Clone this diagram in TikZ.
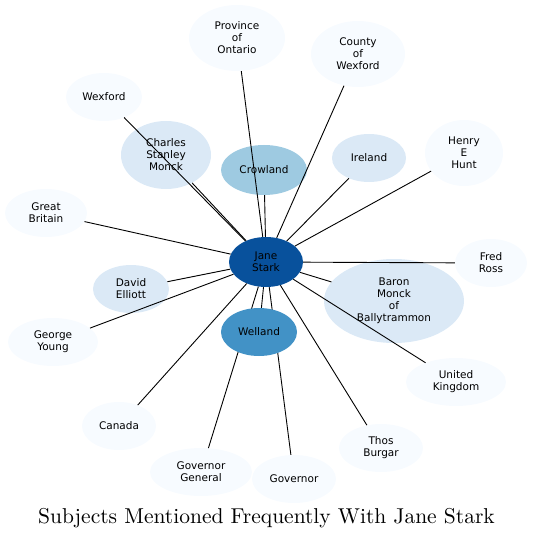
\documentclass[tikz,border=0pt]{standalone}
\usepackage{fontspec}
\setsansfont{DejaVu Sans}
\newfontfamily\titlefont{lmroman10-regular}[Extension=.otf]
\usetikzlibrary{shapes.geometric}
\definecolor{c0}{HTML}{F7FBFF}
\definecolor{c1}{HTML}{DBE9F6}
\definecolor{c2}{HTML}{9ECAE1}
\definecolor{c3}{HTML}{4292C6}
\definecolor{c4}{HTML}{08519C}
\tikzset{
  ent/.style={ellipse, inner sep=0pt, align=center, text=black,
    font=\sffamily\fontsize{10.5}{12}\selectfont},
  e/.style 2 args={ent, minimum width=#1pt, minimum height=#2pt},
  link/.style={draw=black, line width=0.9pt}
}
\begin{document}
\begin{tikzpicture}[x=1pt,y=-1pt]
\useasboundingbox (0,0) rectangle (533,540);
\node[e={74}{50}, fill=c4] (jane) at (266,262) {Jane\\Stark};
\node[e={96}{66}, fill=c0] (prov) at (237,38) {Province\\of\\Ontario};
\node[e={94}{66}, fill=c0] (county) at (358,54) {County\\of\\Wexford};
\node[e={76}{48}, fill=c0] (wex) at (104,97) {Wexford};
\node[e={90}{68}, fill=c1] (csm) at (166,155) {Charles\\Stanley\\Monck};
\node[e={86}{50}, fill=c2] (crow) at (264,170) {Crowland};
\node[e={74}{48}, fill=c1] (ire) at (369,158) {Ireland};
\node[e={78}{66}, fill=c0] (henry) at (464,153) {Henry\\E\\Hunt};
\node[e={82}{48}, fill=c0] (gb) at (46,213) {Great\\Britain};
\node[e={72}{48}, fill=c0] (fred) at (491,263) {Fred\\Ross};
\node[e={76}{48}, fill=c1] (david) at (131,289) {David\\Elliott};
\node[e={140}{84}, fill=c1] (baron) at (394,301) {Baron\\Monck\\of\\Ballytrammon};
\node[e={90}{48}, fill=c0] (george) at (53,342) {George\\Young};
\node[e={100}{48}, fill=c0] (uk) at (456,382) {United\\Kingdom};
\node[e={74}{48}, fill=c0] (canada) at (119,426) {Canada};
\node[e={84}{48}, fill=c0] (thos) at (381,448) {Thos\\Burgar};
\node[e={102}{48}, fill=c0] (govgen) at (201,472) {Governor\\General};
\node[e={84}{48}, fill=c0] (gov) at (294,479) {Governor};
\foreach \t in {prov,county,wex,csm,crow,ire,henry,gb,fred,david,baron,george,uk,canada,thos,govgen,gov}
  \draw[link] (jane) -- (\t);
\node[e={76}{48}, fill=c3] (well) at (259,332) {Welland};
\draw[link] (jane) -- (well);
\node[font=\titlefont\fontsize{21.5}{25}\selectfont] (title) at (266.5,518) {Subjects Mentioned Frequently With Jane Stark};
\end{tikzpicture}
\end{document}
